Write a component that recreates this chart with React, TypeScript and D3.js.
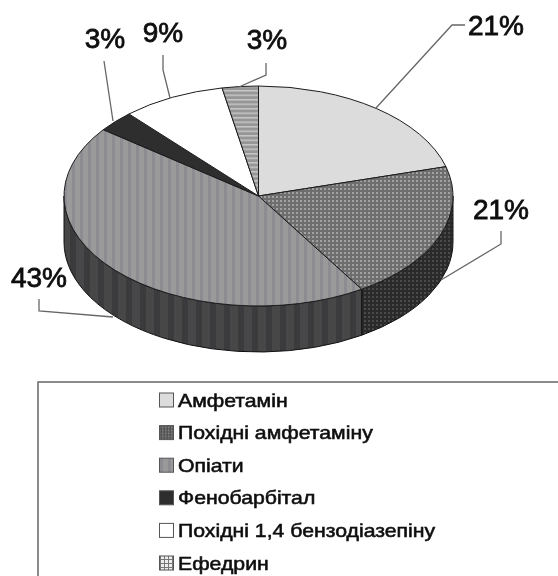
import React from "react";
import * as d3 from "d3";

const categories = ["Амфетамін", "Похідні амфетаміну", "Опіати", "Фенобарбітал", "Похідні 1,4 бензодіазепіну", "Ефедрин"];
const shares = [20.7, 20.4, 44.2, 3.1, 8.6, 3];
const labels = ["21%", "21%", "43%", "3%", "9%", "3%"];
const fills = ["#dcdcdc", "url(#dots)", "url(#vstripes)", "#2e2e2e", "#ffffff", "url(#hstripes)"];
const sideFills = ["#a0a0a0", "url(#dotsDark)", "url(#vstripesDark)", "#1e1e1e", "#888", "#555"];
const legendFills = ["#dcdcdc", "url(#dotsLegend)", "url(#vstripes)", "#2e2e2e", "#ffffff", "url(#grid)"];

const W = 558;
const H = 576;
const cx = 258.5;
const cy = 196;
const rx = 194.5;
const ry = 110;
const depth = 46;

// label anchor + leader polyline, same order as the categories
const labelPos = [
  { x: 496, y: 35, line: [[376, 108], [452, 25], [465, 25]] },
  { x: 501, y: 219, line: [[441, 280], [501, 244], [501, 231]] },
  { x: 39, y: 287, line: [[113, 317], [39, 311], [39, 299]] },
  { x: 105, y: 48, line: [[113, 121], [104, 61]] },
  { x: 163, y: 42, line: [[170, 98], [163, 70], [163, 55]] },
  { x: 267, y: 49, line: [[239, 87], [266, 75], [266, 63]] },
];

const pt = (a: number, dy = 0): [number, number] => [
  cx + rx * Math.sin(a),
  cy - ry * Math.cos(a) + dy,
];

const topPath = (a0: number, a1: number) => {
  const [x0, y0] = pt(a0);
  const [x1, y1] = pt(a1);
  return `M${cx},${cy}L${x0},${y0}A${rx},${ry} 0 ${a1 - a0 > Math.PI ? 1 : 0} 1 ${x1},${y1}Z`;
};

const sidePath = (a0: number, a1: number) => {
  const [x0, y0] = pt(a0);
  const [x1, y1] = pt(a1);
  const [x2, y2] = pt(a1, depth);
  const [x3, y3] = pt(a0, depth);
  return `M${x0},${y0}A${rx},${ry} 0 0 1 ${x1},${y1}L${x2},${y2}A${rx},${ry} 0 0 0 ${x3},${y3}Z`;
};

export default function App() {
  const arcs = d3.pie<number>().sort(null)(shares);
  const line = d3.line();
  const legendY = d3.scalePoint<string>().domain(categories).range([400, 563]);

  return (
    <svg
      width={W}
      height={H}
      style={{ position: "absolute", left: 0, top: 0, background: "#fff" }}
    >
      <defs>
        <filter id="soft" x="-5%" y="-5%" width="110%" height="110%">
          <feGaussianBlur stdDeviation="0.6" />
        </filter>
        <pattern id="dots" width="4" height="4" patternUnits="userSpaceOnUse">
          <rect width="4" height="4" fill="#6e6e6e" />
          <rect width="2" height="2" fill="#a2a2a2" />
        </pattern>
        <pattern id="dotsLegend" width="3" height="3" patternUnits="userSpaceOnUse">
          <rect width="3" height="3" fill="#555" />
          <rect width="1.5" height="1.5" fill="#8a8a8a" />
        </pattern>
        <pattern id="dotsDark" width="4" height="4" patternUnits="userSpaceOnUse">
          <rect width="4" height="4" fill="#2c2c2c" />
          <rect width="2" height="2" fill="#4c4c4c" />
        </pattern>
        <pattern id="vstripes" width="8" height="8" patternUnits="userSpaceOnUse">
          <rect width="8" height="8" fill="#9a9a9a" />
          <rect width="3" height="8" fill="#8c8c92" />
        </pattern>
        <pattern id="vstripesDark" width="14" height="8" patternUnits="userSpaceOnUse">
          <rect width="14" height="8" fill="#464646" />
          <rect width="6" height="8" fill="#3a3a3e" />
        </pattern>
        <pattern id="hstripes" width="4.5" height="4.5" patternUnits="userSpaceOnUse">
          <rect width="4.5" height="4.5" fill="#969696" />
          <rect width="4.5" height="1.5" fill="#c6c6c6" />
        </pattern>
        <pattern id="grid" width="4" height="4" patternUnits="userSpaceOnUse">
          <rect width="4" height="4" fill="#eeeeee" />
          <rect width="1" height="4" fill="#777" />
          <rect width="4" height="1" fill="#777" />
        </pattern>
      </defs>

      <g filter="url(#soft)">
        {arcs.map((d, i) => {
          const a0 = Math.max(d.startAngle, Math.PI / 2);
          const a1 = Math.min(d.endAngle, (3 * Math.PI) / 2);
          if (a1 <= a0) return null;
          return <path key={i} d={sidePath(a0, a1)} fill={sideFills[i]} stroke="#111" strokeWidth={1} />;
        })}
        {arcs.map((d, i) => (
          <path key={i} d={topPath(d.startAngle, d.endAngle)} fill={fills[i]} stroke="#1c1c1c" strokeWidth={1} />
        ))}

        {labelPos.map((p, i) => (
          <path key={i} d={line(p.line as [number, number][]) ?? ""} fill="none" stroke="#666" strokeWidth={1.3} />
        ))}
        {labels.map((t, i) => (
          <text
            key={i}
            x={labelPos[i].x}
            y={labelPos[i].y}
            textAnchor="middle"
            fontFamily="Liberation Sans"
            fontSize={28}
            stroke="#111"
            strokeWidth={0.8}
            fill="#111"
          >
            {t}
          </text>
        ))}

        <path d={`M${W + 5},382H38V${H + 5}`} fill="none" stroke="#666" strokeWidth={1.5} />
        {categories.map((c, i) => (
          <g key={c} transform={`translate(0,${legendY(c)})`}>
            <rect x={159.5} y={-7} width={14} height={14} fill={legendFills[i]} stroke="#555" strokeWidth={1} />
            <text
              transform="translate(178,6.5) scale(1.18,1)"
              fontFamily="Liberation Sans"
              fontSize={18}
              stroke="#111"
              strokeWidth={0.55}
              fill="#111"
            >
              {c}
            </text>
          </g>
        ))}
      </g>
    </svg>
  );
}
